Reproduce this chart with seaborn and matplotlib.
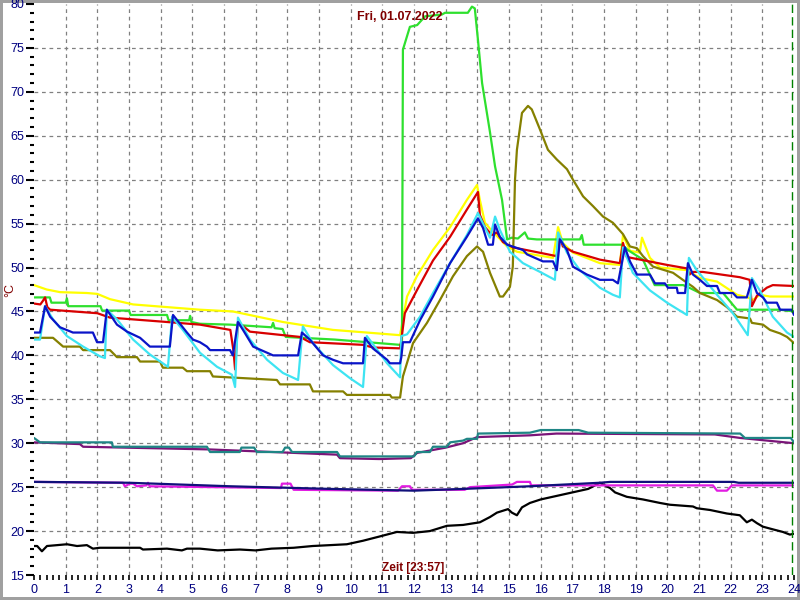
import matplotlib
matplotlib.use("Agg")
import matplotlib.pyplot as plt
from matplotlib.ticker import MultipleLocator
import pandas as pd
import seaborn as sns

# temperature curves, (hour, °C)
GREEN = [(0.0, 46.6), (0.5, 46.6), (0.55, 46.0), (1.0, 46.0), (1.04, 46.5), (1.08, 45.6),
         (2.1, 45.6), (2.15, 45.1), (3.0, 45.1), (3.05, 44.6), (4.2, 44.6), (4.25, 44.0),
         (4.9, 44.0), (4.93, 44.5), (4.97, 43.8), (5.24, 43.6), (6.2, 43.5), (7.5, 43.2),
         (7.55, 43.7), (7.6, 43.1), (7.85, 43.0), (7.95, 42.1), (9.5, 41.8), (11.56, 41.2),
         (11.62, 41.2), (11.65, 74.8), (11.87, 77.4), (12.1, 77.6), (12.35, 78.6), (12.88, 78.8),
         (12.98, 79.0), (13.7, 79.0), (13.83, 79.7), (13.92, 79.5), (14.02, 75.9), (14.15, 71.0),
         (14.4, 65.4), (14.56, 61.5), (14.78, 57.7), (14.94, 53.2), (15.09, 53.4), (15.28, 53.3),
         (15.5, 54.0), (15.6, 53.3), (15.88, 53.2), (17.24, 53.2), (17.3, 53.7), (17.36, 52.6),
         (17.56, 52.6), (18.57, 52.6), (18.75, 52.0), (19.23, 50.9), (19.6, 48.0), (20.5, 48.0),
         (20.75, 47.6), (21.03, 47.1), (21.76, 47.1), (22.2, 45.2), (23.55, 45.2), (24.0, 45.0)]

RED = [(0.0, 45.9), (0.2, 45.8), (0.28, 46.2), (0.35, 46.6), (0.42, 45.5), (0.51, 45.2),
       (2.0, 44.8), (2.4, 44.3), (4.2, 43.8), (5.24, 43.5), (6.2, 42.9), (6.3, 40.5),
       (6.35, 38.4), (6.44, 43.8), (6.82, 42.7), (8.4, 42.1), (8.71, 41.5), (10.39, 41.2),
       (10.7, 40.9), (11.56, 40.8), (11.6, 41.8), (11.71, 44.8), (12.09, 47.4), (12.6, 50.8),
       (13.14, 53.5), (13.67, 56.6), (14.02, 58.6), (14.08, 56.0), (14.24, 54.6), (14.46, 53.7),
       (14.62, 54.0), (14.81, 52.9), (15.12, 52.3), (16.5, 51.3), (16.61, 53.5), (16.7, 52.4),
       (17.02, 51.8), (17.87, 50.9), (18.5, 50.5), (18.6, 52.8), (18.72, 51.2), (19.99, 50.3),
       (20.62, 49.9), (20.7, 49.2), (20.8, 49.5), (21.12, 49.5), (22.29, 48.9), (22.6, 48.6),
       (22.67, 45.6), (22.83, 46.8), (23.14, 47.7), (23.33, 48.0), (24.0, 47.9)]

YELLOW = [(0.0, 48.0), (0.4, 47.5), (0.82, 47.2), (1.67, 47.1), (2.0, 47.0), (2.4, 46.4),
          (3.13, 45.8), (5.24, 45.2), (6.28, 45.0), (7.86, 43.8), (9.44, 42.9), (10.51, 42.6),
          (11.56, 42.3), (11.65, 44.1), (11.78, 46.7), (12.09, 49.0), (12.6, 52.0), (13.14, 54.6),
          (13.67, 57.7), (13.99, 59.4), (14.08, 57.7), (14.24, 55.1), (14.5, 54.0), (14.7, 53.3),
          (14.94, 52.4), (15.25, 51.8), (16.39, 51.1), (16.55, 54.6), (16.7, 52.8), (17.02, 51.7),
          (17.87, 50.5), (18.5, 50.3), (18.6, 53.7), (18.82, 51.9), (19.13, 51.7), (19.2, 53.4),
          (19.45, 51.1), (19.77, 50.0), (20.62, 49.7), (21.03, 48.8), (21.57, 48.4), (22.2, 46.9),
          (22.54, 46.6), (22.7, 46.3), (22.92, 46.9), (23.24, 46.7), (24.0, 46.7)]

BLUE = [(0.0, 42.6), (0.19, 42.6), (0.35, 45.6), (0.51, 44.4), (0.82, 43.2), (1.23, 42.6),
        (1.86, 42.6), (1.99, 41.5), (2.18, 41.5), (2.3, 45.2), (2.62, 43.5), (2.94, 42.7),
        (3.35, 42.0), (3.66, 41.0), (4.29, 41.0), (4.39, 44.6), (4.83, 42.6), (5.02, 41.8),
        (5.24, 41.5), (5.46, 41.0), (5.56, 40.6), (6.19, 40.6), (6.28, 40.0), (6.44, 43.8),
        (6.6, 42.9), (6.92, 41.0), (7.55, 40.0), (8.34, 40.0), (8.46, 42.6), (8.71, 41.8),
        (9.13, 40.0), (9.44, 39.5), (9.76, 39.1), (10.39, 39.1), (10.45, 42.0), (10.7, 40.8),
        (11.15, 39.5), (11.24, 39.1), (11.56, 39.1), (11.6, 39.8), (11.65, 41.5), (11.87, 41.5),
        (12.19, 44.0), (12.6, 46.7), (13.14, 50.5), (13.67, 53.5), (14.02, 55.6), (14.18, 54.5),
        (14.34, 52.6), (14.49, 52.6), (14.56, 54.9), (14.71, 53.5), (14.94, 52.6), (15.19, 52.3),
        (15.44, 52.0), (15.57, 51.5), (16.07, 50.7), (16.39, 50.7), (16.51, 49.7), (16.61, 53.2),
        (16.83, 52.0), (17.02, 50.1), (17.46, 49.2), (17.87, 48.6), (18.28, 48.6), (18.44, 48.2),
        (18.66, 52.3), (18.82, 50.7), (19.04, 49.2), (19.45, 49.2), (19.61, 48.2), (19.92, 48.2),
        (20.02, 47.7), (20.3, 47.7), (20.33, 47.1), (20.56, 47.1), (20.65, 50.5), (20.81, 49.2),
        (21.03, 48.6), (21.25, 47.9), (21.57, 47.9), (21.66, 47.1), (22.07, 47.1), (22.2, 46.6),
        (22.51, 46.6), (22.67, 48.6), (22.83, 47.1), (23.02, 46.6), (23.14, 46.0), (23.46, 46.0),
        (23.56, 45.2), (23.93, 45.2), (24.0, 44.6)]

CYAN = [(0.0, 41.8), (0.19, 41.8), (0.35, 45.6), (0.6, 44.1), (1.04, 42.2), (1.55, 41.0),
        (2.08, 39.9), (2.24, 39.7), (2.3, 45.2), (2.62, 44.1), (3.13, 41.8), (3.66, 40.1),
        (4.23, 38.7), (4.36, 44.4), (4.7, 42.9), (5.24, 40.3), (5.78, 38.7), (6.25, 37.8),
        (6.35, 36.4), (6.44, 44.3), (6.82, 41.8), (7.36, 39.5), (7.86, 38.0), (8.34, 37.2),
        (8.49, 43.3), (8.81, 41.4), (9.44, 38.9), (9.98, 37.4), (10.39, 36.4), (10.51, 42.2),
        (10.7, 41.3), (11.15, 39.1), (11.56, 37.5), (11.6, 42.2), (11.78, 42.4), (12.19, 44.4),
        (12.6, 47.1), (13.14, 50.5), (13.67, 53.7), (14.02, 56.2), (14.18, 55.0), (14.4, 53.4),
        (14.56, 55.8), (14.71, 54.3), (15.03, 51.8), (15.44, 50.5), (15.98, 49.5), (16.45, 48.6),
        (16.55, 54.0), (16.83, 51.7), (17.24, 49.7), (17.87, 47.7), (18.28, 46.9), (18.5, 46.6),
        (18.6, 52.3), (18.91, 49.4), (19.45, 47.4), (19.99, 46.0), (20.62, 44.6), (20.68, 51.1),
        (20.93, 49.7), (21.57, 46.9), (22.07, 44.8), (22.54, 42.3), (22.67, 48.8), (22.92, 47.4),
        (23.33, 44.4), (23.78, 42.6), (24.0, 42.1)]

OLIVE = [(0.0, 42.0), (0.6, 42.0), (0.76, 41.5), (0.92, 41.0), (1.45, 41.0), (1.55, 40.6),
         (2.4, 40.6), (2.62, 39.8), (3.25, 39.8), (3.35, 39.3), (3.98, 39.3), (4.07, 38.6),
         (4.7, 38.6), (4.83, 38.2), (5.56, 38.2), (5.65, 37.6), (7.67, 37.2), (7.77, 36.7),
         (8.71, 36.7), (8.81, 35.9), (9.76, 35.9), (9.88, 35.5), (11.24, 35.5), (11.3, 35.2),
         (11.56, 35.2), (11.65, 37.6), (11.97, 41.4), (12.41, 43.7), (12.82, 46.3), (13.23, 49.0),
         (13.67, 51.3), (13.99, 52.4), (14.18, 51.8), (14.4, 49.4), (14.71, 46.7), (14.81, 46.7),
         (15.03, 47.8), (15.12, 50.1), (15.19, 60.0), (15.25, 63.4), (15.41, 67.6), (15.6, 68.4),
         (15.72, 68.0), (15.98, 65.7), (16.23, 63.4), (16.51, 62.3), (16.83, 61.2), (17.02, 60.0),
         (17.34, 58.1), (17.65, 57.0), (17.97, 55.8), (18.28, 55.1), (18.6, 53.8), (18.82, 52.4),
         (19.04, 52.2), (19.23, 51.3), (19.55, 50.1), (20.18, 49.4), (20.49, 48.6), (20.81, 47.8),
         (21.03, 47.1), (21.57, 46.3), (21.88, 45.5), (22.2, 44.4), (22.61, 44.2), (22.67, 43.7),
         (23.02, 43.5), (23.24, 42.9), (23.56, 42.5), (23.78, 42.1), (24.0, 41.4)]

TEAL = [(0.0, 30.6), (0.19, 30.1), (2.46, 30.1), (2.49, 29.6), (5.46, 29.6), (5.56, 29.0),
        (6.5, 29.0), (6.55, 29.5), (6.95, 29.5), (7.04, 29.0), (7.85, 29.0), (7.93, 29.5),
        (8.05, 29.5), (8.15, 29.0), (9.57, 29.0), (9.66, 28.5), (12.0, 28.5), (12.09, 29.0),
        (12.5, 29.0), (12.6, 29.6), (13.04, 29.6), (13.14, 30.1), (13.55, 30.3), (13.67, 30.5),
        (13.99, 30.5), (14.02, 31.1), (15.66, 31.2), (16.0, 31.5), (17.2, 31.5), (17.5, 31.2),
        (22.3, 31.1), (22.45, 30.6), (23.9, 30.6), (24.0, 30.1)]

PURPLE = [(0.0, 30.1), (1.45, 29.9), (1.55, 29.6), (5.5, 29.3), (9.57, 28.7), (9.66, 28.3),
          (10.9, 28.2), (11.9, 28.3), (12.1, 28.9), (13.0, 29.5), (13.55, 30.0), (13.99, 30.7),
          (15.66, 30.9), (16.5, 31.1), (21.5, 31.0), (22.3, 30.6), (24.0, 30.0)]

MAGENTA = [(0.0, 25.6), (2.81, 25.5), (2.87, 25.1), (3.03, 25.4), (3.13, 25.4), (3.25, 25.1),
           (3.55, 25.2), (3.6, 25.5), (3.65, 25.1), (7.8, 24.9), (7.83, 25.4), (8.1, 25.4),
           (8.2, 24.7), (11.5, 24.6), (11.62, 25.1), (11.87, 25.1), (11.94, 24.7), (13.6, 24.7),
           (13.77, 25.0), (15.1, 25.3), (15.25, 25.6), (15.66, 25.6), (15.7, 25.2), (21.44, 25.2),
           (21.57, 24.6), (21.88, 24.6), (22.04, 25.2), (24.0, 25.2)]

NAVY = [(0.0, 25.6), (3.0, 25.5), (6.2, 25.1), (9.35, 24.8), (12.0, 24.6), (13.55, 24.8),
        (15.66, 25.1), (17.87, 25.5), (18.2, 25.6), (22.1, 25.6), (22.25, 25.5), (24.0, 25.5)]

BLACK = [(0.0, 18.3), (0.1, 18.3), (0.25, 17.7), (0.41, 18.3), (0.73, 18.4), (1.04, 18.5),
         (1.36, 18.3), (1.67, 18.4), (1.86, 18.0), (2.08, 18.1), (3.35, 18.1), (3.44, 17.9),
         (4.2, 18.0), (4.67, 17.8), (4.83, 18.0), (5.24, 18.0), (5.8, 17.8), (6.5, 17.9),
         (7.0, 17.8), (7.5, 18.0), (8.2, 18.1), (8.8, 18.3), (9.35, 18.4), (9.88, 18.5),
         (10.39, 18.9), (10.93, 19.4), (11.46, 19.9), (11.97, 19.8), (12.5, 20.0), (13.04, 20.6),
         (13.55, 20.7), (14.08, 21.0), (14.4, 21.6), (14.62, 22.1), (14.97, 22.5), (15.09, 22.1),
         (15.25, 21.8), (15.41, 22.7), (15.66, 23.2), (16.0, 23.6), (16.5, 24.0), (17.0, 24.4),
         (17.5, 24.8), (17.87, 25.5), (18.19, 24.9), (18.35, 24.4), (18.72, 23.9), (19.23, 23.6),
         (19.77, 23.2), (20.08, 23.0), (20.81, 22.8), (20.93, 22.6), (21.35, 22.4), (21.88, 22.0),
         (22.29, 21.8), (22.51, 21.0), (22.67, 21.3), (22.83, 20.9), (23.02, 20.5), (23.33, 20.2),
         (23.65, 19.9), (23.87, 19.6), (24.0, 19.7)]

SERIES = {
    "black": (BLACK, "#000000"),
    "magenta": (MAGENTA, "#e21ce2"),
    "navy": (NAVY, "#10107a"),
    "purple": (PURPLE, "#7a1478"),
    "teal": (TEAL, "#1f8585"),
    "yellow": (YELLOW, "#ffff00"),
    "green": (GREEN, "#2ee02e"),
    "olive": (OLIVE, "#858000"),
    "red": (RED, "#d80000"),
    "cyan": (CYAN, "#3ee4f2"),
    "blue": (BLUE, "#0a14c8"),
}

frames = []
for name, (pts, _) in SERIES.items():
    d = pd.DataFrame(pts, columns=["hour", "temp"])
    d["sensor"] = name
    frames.append(d)
df = pd.concat(frames, ignore_index=True)
palette = {name: col for name, (_, col) in SERIES.items()}

sns.set_style("white")
plt.rcParams["font.family"] = ["Liberation Sans", "DejaVu Sans"]

fig = plt.figure(figsize=(8, 6), dpi=100)
fig.patch.set_edgecolor("#a0a0a0")
fig.patch.set_linewidth(3)
ax = fig.add_axes([34 / 800, 25 / 600, 760 / 800, 571 / 600])

# grid (interior only)
for y in range(20, 80, 5):
    ax.axhline(y, color="#808080", lw=0.9, ls=(0, (3, 3)), zorder=0)
for x in range(1, 24):
    ax.axvline(x, color="#808080", lw=0.9, ls=(0, (3, 3)), zorder=0)

sns.lineplot(data=df, x="hour", y="temp", hue="sensor", hue_order=list(SERIES),
             palette=palette, estimator=None, sort=False, linewidth=1.6,
             legend=False, ax=ax)

ax.axvline(23.95, color="#008000", lw=1.0, ls=(0, (6, 3)))

ax.set_xlim(0, 24)
ax.set_ylim(15, 80)
ax.set_xlabel("")
ax.set_ylabel("")
for s in ax.spines.values():
    s.set_visible(False)

ax.set_xticks(range(0, 25))
ax.xaxis.set_minor_locator(MultipleLocator(0.2))
ax.set_yticks(range(15, 81, 5))
ax.yaxis.set_minor_locator(MultipleLocator(1))
ax.tick_params(axis="x", which="both", bottom=True, direction="out", length=3.5,
               width=1.2, colors="black", labelcolor="#000080", labelsize=9, pad=3)
ax.tick_params(axis="y", which="major", left=True, direction="out", length=6,
               width=1.5, colors="black", labelcolor="#000080", labelsize=9, pad=1)
ax.tick_params(axis="y", which="minor", left=True, direction="out", length=3,
               width=1.5, colors="black")

fig.text(400 / 800, 1 - 17 / 600, "Fri, 01.07.2022", color="#800000",
         fontsize=9, fontweight="bold", ha="center", va="center")
fig.text(413 / 800, 1 - 568 / 600, "Zeit [23:57]", color="#800000",
         fontsize=8.5, fontweight="bold", ha="center", va="center")
fig.text(10 / 800, 1 - 290 / 600, "°C", color="#800000", fontsize=9,
         rotation=90, ha="center", va="center")

fig.savefig("out.png", dpi=100)
